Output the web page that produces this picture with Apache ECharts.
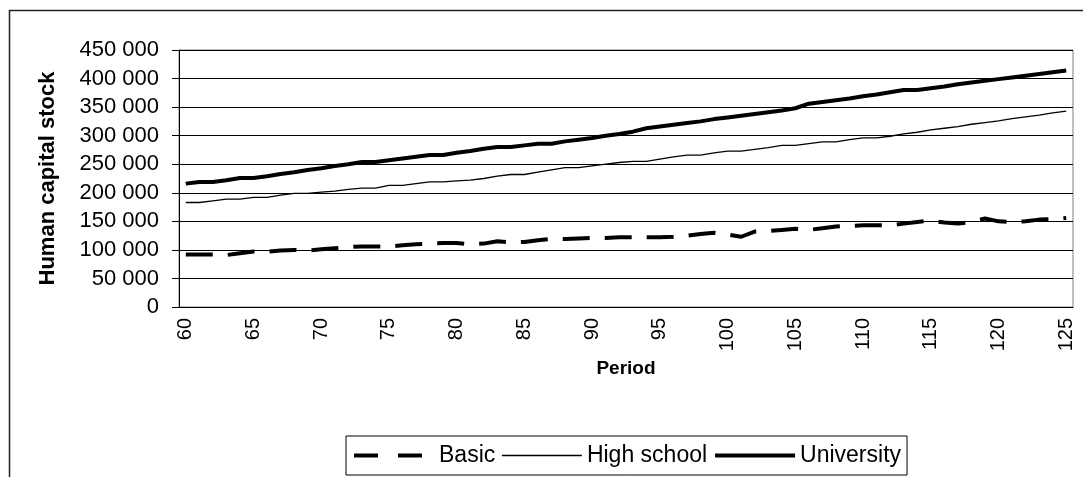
<!DOCTYPE html>
<html>
<head>
<meta charset="utf-8">
<script src="https://cdn.jsdelivr.net/npm/echarts@6/dist/echarts.min.js"></script>
<style>
  html, body { margin: 0; padding: 0; background: #fff; }
  #chart { width: 1083px; height: 477px; }
</style>
</head>
<body>
<div id="chart"></div>
<script>
// Periods 60..125
const periods = [];
for (let p = 60; p <= 125; p++) periods.push(String(p));

// Human capital stock by education level (thousands)
const basic = [
  92, 92, 92, 91, 94, 97, 97, 99, 100, 99,
  101, 103, 105, 106, 106, 106, 108, 110, 111, 112,
  112, 110, 111, 115, 113, 114, 117, 119, 119, 120,
  121, 121, 122, 122, 122, 122, 123, 125, 128, 130,
  127, 123, 132, 133, 135, 137, 135, 138, 141, 142,
  143, 143, 143, 146, 149, 151, 148, 146, 149, 155,
  150, 149, 150, 153, 154, 156
];
const highSchool = [
  183, 183, 186, 189, 189, 192, 192, 196, 199, 199,
  201, 203, 206, 208, 208, 213, 213, 216, 219, 219,
  221, 222, 225, 229, 232, 232, 236, 240, 244, 244,
  247, 250, 253, 255, 255, 259, 263, 266, 266, 270,
  273, 273, 276, 279, 283, 283, 286, 289, 289, 293,
  296, 296, 299, 303, 306, 310, 313, 316, 320, 323,
  326, 330, 333, 336, 340, 343
];
const university = [
  216, 219, 219, 222, 226, 226, 229, 233, 236, 240,
  243, 247, 250, 254, 254, 257, 260, 263, 266, 266,
  270, 273, 277, 280, 280, 283, 286, 286, 290, 293,
  296, 300, 303, 307, 313, 316, 319, 322, 325, 329,
  332, 335, 338, 341, 344, 348, 356, 359, 362, 365,
  369, 372, 376, 380, 380, 383, 386, 390, 393, 396,
  399, 402, 405, 408, 411, 414
];

const toUnits = arr => arr.map(v => v * 1000);
const fmtSpace = v => String(v).replace(/\B(?=(\d{3})+(?!\d))/g, ' ');

const FONT = '"Liberation Sans", Arial, sans-serif';

const chart = echarts.init(document.getElementById('chart'), null, { renderer: 'canvas' });

chart.setOption({
  backgroundColor: '#ffffff',
  animation: false,
  textStyle: { fontFamily: FONT, color: '#000' },
  grid: {
    left: 179, right: 10, top: 50, bottom: 170,
    show: true, borderColor: '#808080', borderWidth: 1, backgroundColor: 'transparent'
  },
  graphic: [{
    type: 'polyline',
    shape: { points: [[9.5, 477], [9.5, 10.5], [1083, 10.5]] },
    style: { stroke: '#222', lineWidth: 1.5, fill: null },
    silent: true
  }],
  legend: {
    left: 346, top: 436,
    padding: [8, 6, 8, 6],
    borderColor: '#000', borderWidth: 1,
    itemWidth: 80, itemHeight: 22, itemGap: 6,
    itemStyle: { opacity: 0 },
    textStyle: { fontFamily: FONT, fontSize: 23, color: '#000' },
    data: [
      { name: 'Basic', itemStyle: { opacity: 0 }, lineStyle: { width: 4, type: [24, 20], color: '#000' } },
      { name: 'High school', itemStyle: { opacity: 0 }, lineStyle: { width: 1.3, color: '#000' } },
      { name: 'University', itemStyle: { opacity: 0 }, lineStyle: { width: 4, color: '#000' } }
    ]
  },
  xAxis: {
    type: 'category',
    data: periods,
    boundaryGap: true,
    name: 'Period',
    nameLocation: 'middle',
    nameGap: 43,
    nameTextStyle: { fontFamily: FONT, fontSize: 19, fontWeight: 'bold', color: '#000' },
    axisLine: { lineStyle: { color: '#000', width: 1 } },
    axisTick: { interval: 4, length: 7, lineStyle: { color: '#000' } },
    axisLabel: { interval: 4, rotate: 90, margin: 11, fontSize: 20, color: '#000', fontFamily: FONT },
    splitLine: { show: false }
  },
  yAxis: {
    type: 'value',
    min: 0, max: 450000, interval: 50000,
    name: 'Human capital stock',
    nameLocation: 'middle',
    nameRotate: 90,
    nameGap: 120,
    nameTextStyle: { fontFamily: FONT, fontSize: 22, fontWeight: 'bold', color: '#000' },
    axisLine: { show: true, lineStyle: { color: '#000', width: 1 } },
    axisTick: { show: true, length: 7, lineStyle: { color: '#000' } },
    axisLabel: { margin: 20, fontSize: 22, color: '#000', fontFamily: FONT, formatter: fmtSpace },
    splitLine: { show: true, lineStyle: { color: '#000', width: 1 } }
  },
  series: [
    {
      name: 'Basic', type: 'line', data: toUnits(basic),
      symbol: 'none', lineStyle: { color: '#000', width: 4, type: [27, 15] },
      itemStyle: { color: '#000' }, z: 3
    },
    {
      name: 'High school', type: 'line', data: toUnits(highSchool),
      symbol: 'none', lineStyle: { color: '#000', width: 1.3 },
      itemStyle: { color: '#000' }, z: 3
    },
    {
      name: 'University', type: 'line', data: toUnits(university),
      symbol: 'none', lineStyle: { color: '#000', width: 4 },
      itemStyle: { color: '#000' }, z: 3
    }
  ]
});
</script>
</body>
</html>
